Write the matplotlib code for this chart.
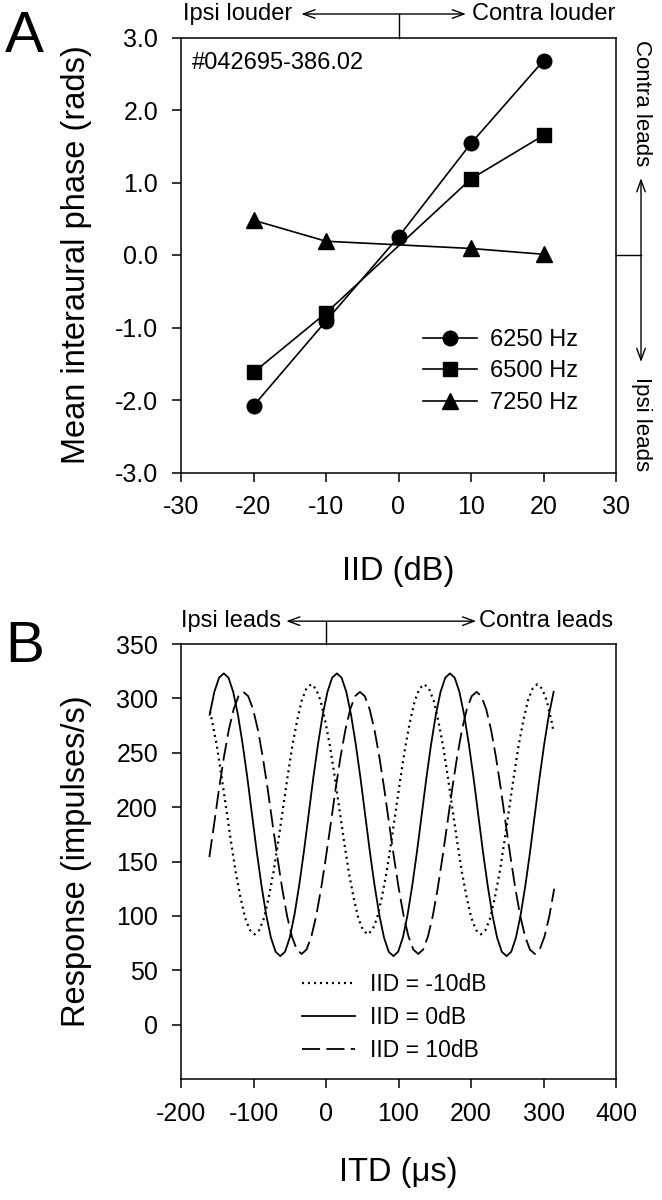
import matplotlib
matplotlib.use("Agg")
import matplotlib.pyplot as plt
from matplotlib.ticker import FormatStrFormatter

plt.rcParams['font.family'] = ['Liberation Sans', 'DejaVu Sans']
plt.rcParams['axes.unicode_minus'] = False

# ---- Panel A: mean interaural phase vs IID ----
iid_all = [-20, -10, 0, 10, 20]
phase_6250 = [-2.08, -0.91, 0.25, 1.54, 2.68]
iid_part = [-20, -10, 10, 20]
phase_6500 = [-1.62, -0.80, 1.05, 1.65]
phase_7250 = [0.48, 0.19, 0.09, 0.01]

# ---- Panel B: ITD response curves ----
itd_m10 = [-160, -157, -150.5, -144, -137.5, -131, -124.5, -118, -111.5, -105, -98.5, -92,
           -85.5, -79, -72.5, -66, -59.5, -53, -46.5, -40, -33.5, -27,
           -20.5, -14, -7.5, -1, 5.5, 12, 18.5, 25, 31.5, 38, 44.5, 51,
           57.5, 64, 70.5, 77, 83.5, 90, 96.5, 103, 109.5, 116, 122.5, 129,
           135.5, 142, 148.5, 155, 161.5, 168, 174.5, 181, 187.5, 194, 200.5, 207,
           213.5, 220, 226.5, 233, 239.5, 246, 252.5, 259, 265.5, 272, 278.5, 285,
           291.5, 298, 304.5, 311, 314]
resp_m10 = [288, 279, 256, 228, 198, 168, 140, 117, 98, 87, 83, 87,
            98, 117, 140, 168, 198, 228, 256, 279, 298, 309,
            313, 309, 298, 279, 256, 228, 198, 168, 140, 117, 98, 87,
            83, 87, 98, 117, 140, 168, 198, 228, 256, 279, 298, 309,
            313, 309, 298, 279, 256, 228, 198, 168, 140, 117, 98, 87,
            83, 87, 98, 117, 140, 168, 198, 228, 256, 279, 298, 309,
            313, 309, 298, 279, 269]

itd_0 = [-160.5, -154, -147.5, -141, -134.5, -128, -121.5, -115, -108.5, -102,
         -95.5, -89, -82.5, -76, -69.5, -63, -56.5, -50, -43.5, -37,
         -30.5, -24, -17.5, -11, -4.5, 2, 8.5, 15, 21.5, 28,
         34.5, 41, 47.5, 54, 60.5, 67, 73.5, 80, 86.5, 93,
         99.5, 106, 112.5, 119, 125.5, 132, 138.5, 145, 151.5, 158,
         164.5, 171, 177.5, 184, 190.5, 197, 203.5, 210, 216.5, 223,
         229.5, 236, 242.5, 249, 255.5, 262, 268.5, 275, 281.5, 288,
         294.5, 301, 307.5, 314]
resp_0 = [285, 306, 319,
          323, 319, 306, 285, 258, 227, 193, 159, 128, 101, 80, 67,
          63, 67, 80, 101, 128, 159, 193, 227, 258, 285, 306, 319,
          323, 319, 306, 285, 258, 227, 193, 159, 128, 101, 80, 67,
          63, 67, 80, 101, 128, 159, 193, 227, 258, 285, 306, 319,
          323, 319, 306, 285, 258, 227, 193, 159, 128, 101, 80, 67,
          63, 67, 80, 101, 128, 159, 193, 227, 258, 285, 306]

itd_p10 = [-160.9, -154.2, -147.5, -140.8, -134.1, -127.4, -120.7, -114.0,
           -107.3, -100.6, -93.9, -87.2, -80.5, -73.8, -67.1, -60.4, -53.7, -47.0, -40.3, -33.6,
           -26.9, -20.2, -13.5, -6.8, -0.1, 6.6, 13.3, 20.0, 26.7, 33.4, 40.1, 46.8,
           53.5, 60.2, 66.9, 73.6, 80.3, 87.0, 93.7, 100.4, 107.1, 113.8, 120.5, 127.2,
           133.9, 140.6, 147.3, 154.0, 160.7, 167.4, 174.1, 180.8, 187.5, 194.2, 200.9, 207.6,
           214.3, 221.0, 227.7, 234.4, 241.1, 247.8, 254.5, 261.2, 267.9, 274.6, 281.3, 288.0,
           294.7, 301.4, 308.1, 314.8]
resp_p10 = [154, 185, 217, 246, 271, 290, 302, 306,
            302, 290, 271, 246, 217, 185, 154, 125, 100, 81, 69, 65,
            69, 81, 100, 125, 154, 185, 217, 246, 271, 290, 302, 306,
            302, 290, 271, 246, 217, 185, 154, 125, 100, 81, 69, 65,
            69, 81, 100, 125, 154, 185, 217, 246, 271, 290, 302, 306,
            302, 290, 271, 246, 217, 185, 154, 125, 100, 81, 69, 65,
            69, 81, 100, 125]

fig = plt.figure(figsize=(6.62, 12), dpi=100)
axA = fig.add_axes([181 / 662, 1 - 472.5 / 1200, 435 / 662, 435 / 1200])
axB = fig.add_axes([181 / 662, 1 - 1079 / 1200, 435 / 662, 435 / 1200])

arrow_kw = dict(arrowstyle='<->,head_length=0.6,head_width=0.22', color='k', lw=1,
                shrinkA=0, shrinkB=0, mutation_scale=14)

for ax in (axA, axB):
    for s in ax.spines.values():
        s.set_linewidth(1.1)
    ax.tick_params(direction='out', length=6.5, width=1.1, labelsize=18, pad=10,
                   top=False, right=False)

# panel A
axA.plot(iid_all, phase_6250, color='k', lw=1.2, marker='o', ms=10.5, label='6250 Hz')
axA.plot(iid_part, phase_6500, color='k', lw=1.2, marker='s', ms=9.5, label='6500 Hz')
axA.plot(iid_part, phase_7250, color='k', lw=1.2, marker='^', ms=11, label='7250 Hz')
axA.set_xlim(-30, 30)
axA.set_ylim(-3, 3)
axA.set_xticks(range(-30, 31, 10))
axA.set_yticks([-3, -2, -1, 0, 1, 2, 3])
axA.yaxis.set_major_formatter(FormatStrFormatter('%.1f'))
axA.set_xlabel('IID (dB)', fontsize=23.5)
axA.set_ylabel('Mean interaural phase (rads)', fontsize=23.5)
axA.xaxis.set_label_coords(0.5, -0.192)
axA.yaxis.set_label_coords(-0.205, 0.5)
axA.text(0.025, 0.941, '#042695-386.02', transform=axA.transAxes, va='center', fontsize=17)
axA.legend(loc='upper left', bbox_to_anchor=(0.556, 0.33), frameon=False, fontsize=17,
           handlelength=2.3, handletextpad=0.55, labelspacing=0.4, borderpad=0,
           borderaxespad=0, numpoints=1)

# top arrow (IID side)
axA.annotate('', xy=(-13.4, 3.324), xytext=(9.3, 3.324), arrowprops=arrow_kw, annotation_clip=False)
axA.plot([0, 0], [3.0, 3.324], color='k', lw=1, clip_on=False)
axA.text(-14.7, 3.324, 'Ipsi louder', ha='right', va='center', fontsize=17)
axA.text(10.1, 3.324, 'Contra louder', ha='left', va='center', fontsize=17)

# right arrow (phase side)
axA.plot([30, 33.45], [0, 0], color='k', lw=1, clip_on=False)
axA.annotate('', xy=(33.45, 1.06), xytext=(33.45, -1.476), arrowprops=arrow_kw, annotation_clip=False)
axA.text(33.45, 2.97, 'Contra leads', rotation=270, ha='center', va='top', fontsize=16)
axA.text(33.45, -1.68, 'Ipsi leads', rotation=270, ha='center', va='top', fontsize=16)

# panel B
axB.plot(itd_m10, resp_m10, color='k', lw=1.6, ls=(0, (0.9, 1.8)), label='IID = -10dB')
axB.plot(itd_0, resp_0, color='k', lw=1.3, label='IID = 0dB')
axB.plot(itd_p10, resp_p10, color='k', lw=1.3, ls=(0, (10, 3.5)), label='IID = 10dB')
axB.set_xlim(-200, 400)
axB.set_ylim(-50, 350)
axB.set_xticks(range(-200, 401, 100))
axB.set_yticks(range(0, 351, 50))
axB.set_xlabel('ITD (\u03bcs)', fontsize=23.5)
axB.set_ylabel('Response (impulses/s)', fontsize=23.5)
axB.xaxis.set_label_coords(0.5, -0.179)
axB.yaxis.set_label_coords(-0.205, 0.5)
axB.legend(loc='upper left', bbox_to_anchor=(0.278, 0.244), frameon=False, fontsize=16.5,
           handlelength=2.3, handletextpad=0.65, labelspacing=0.45, borderpad=0,
           borderaxespad=0)

axB.annotate('', xy=(-54.9, 371), xytext=(207.2, 371), arrowprops=arrow_kw, annotation_clip=False)
axB.plot([0, 0], [350, 371], color='k', lw=1, clip_on=False)
axB.text(-61.8, 371, 'Ipsi leads', ha='right', va='center', fontsize=17)
axB.text(211.7, 371, 'Contra leads', ha='left', va='center', fontsize=17)

fig.text(5 / 662, 1 - 52 / 1200, 'A', fontsize=42, ha='left', va='baseline')
fig.text(5 / 662, 1 - 662 / 1200, 'B', fontsize=42, ha='left', va='baseline')

fig.savefig('out.png', dpi=100)
